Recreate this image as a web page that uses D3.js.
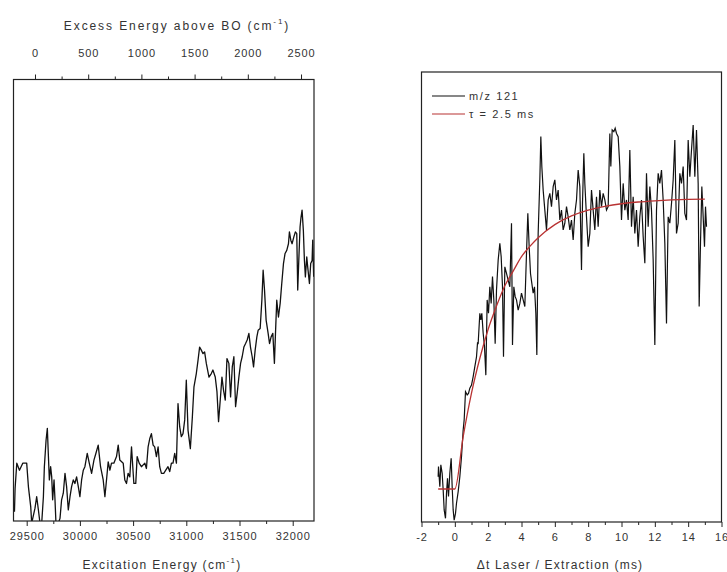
<!DOCTYPE html>
<html>
<head>
<meta charset="utf-8">
<script src="https://cdn.jsdelivr.net/npm/d3@7"></script>
<style>
    body { margin: 0; background: #fff; }
    text { font-family: Arial, "Liberation Sans", sans-serif; fill: #333; }
</style>
</head>
<body>
<script>
// ---- left panel: excitation spectrum (arb. units) ----
var leftEnergy = [29385,29391,29407,29432,29463,29500,29516,29538,29547,29578,29594,29610,29625,29641,29657,29666,29682,29694,29703,29713,
    29725,29735,29744,29757,29766,29775,29797,29813,29828,29844,29860,29875,29891,29907,29922,29938,29953,29969,29985,30000,
    30016,30032,30047,30069,30088,30110,30132,30150,30172,30194,30219,30235,30250,30266,30282,30297,30319,30344,30360,30375,
    30407,30422,30438,30453,30469,30485,30507,30525,30538,30557,30578,30610,30625,30641,30657,30672,30688,30703,30719,30735,
    30750,30766,30788,30807,30828,30844,30860,30875,30891,30907,30922,30938,30953,30969,30985,31000,31016,31038,31057,31072,
    31094,31110,31125,31141,31157,31172,31188,31213,31235,31250,31272,31288,31303,31319,31335,31350,31366,31382,31400,31416,
    31432,31447,31463,31478,31494,31510,31525,31541,31557,31572,31588,31603,31619,31632,31647,31663,31675,31694,31710,31722,
    31735,31750,31769,31782,31797,31813,31828,31838,31850,31866,31882,31897,31913,31928,31944,31960,31969,31982,31994,32010,
    32025,32038,32047,32057,32069,32078,32088,32100,32110,32119,32132,32141,32157,32169,32182,32188,32197];
var leftSignal = [0.021,0.074,0.131,0.115,0.131,0.131,0.078,0.032,-0.005,0.029,0.055,0.025,-0.005,-0.005,0.055,0.123,0.183,0.210,0.153,0.093,
    0.123,0.100,0.048,0.093,0.048,-0.005,-0.005,0.006,0.048,0.063,0.108,0.078,0.025,0.055,0.078,0.093,0.085,0.100,0.078,0.055,
    0.093,0.115,0.123,0.153,0.131,0.108,0.138,0.153,0.172,0.123,0.093,0.055,0.093,0.134,0.115,0.131,0.131,0.146,0.172,0.138,
    0.131,0.093,0.085,0.108,0.100,0.168,0.085,0.085,0.146,0.131,0.123,0.131,0.119,0.168,0.187,0.198,0.172,0.168,0.146,0.168,
    0.123,0.108,0.108,0.115,0.123,0.112,0.131,0.131,0.153,0.131,0.266,0.213,0.191,0.198,0.229,0.319,0.206,0.164,0.236,0.304,
    0.334,0.364,0.394,0.387,0.379,0.383,0.357,0.326,0.334,0.342,0.326,0.293,0.225,0.274,0.326,0.296,0.274,0.368,0.357,0.281,
    0.349,0.372,0.259,0.289,0.326,0.357,0.372,0.394,0.402,0.410,0.425,0.394,0.372,0.349,0.387,0.417,0.432,0.436,0.500,0.568,
    0.523,0.455,0.425,0.402,0.417,0.425,0.357,0.425,0.500,0.462,0.493,0.538,0.583,0.606,0.613,0.628,0.655,0.636,0.628,0.643,
    0.655,0.651,0.523,0.590,0.666,0.688,0.704,0.658,0.590,0.553,0.598,0.575,0.538,0.583,0.590,0.636,0.553];

var energyTicks = [29500, 30000, 30500, 31000, 31500, 32000];
var energyMinor = [29750, 30250, 30750, 31250, 31750];
var excessTicks = [0, 500, 1000, 1500, 2000, 2500];
var excessMinor = [250, 750, 1250, 1750, 2250];
var boOrigin = 29578;                                   // band origin used for the top axis

// ---- right panel: delay scan ----
var delayMs = [-1.00,-0.98,-0.90,-0.84,-0.76,-0.70,-0.64,-0.56,-0.50,-0.44,-0.38,-0.30,-0.22,-0.16,-0.10,-0.04,0.04,0.10,0.20,0.30,
    0.40,0.50,0.56,0.64,0.74,0.82,0.90,1.00,1.10,1.20,1.30,1.36,1.40,1.50,1.56,1.62,1.70,1.78,1.86,1.94,
    2.02,2.10,2.18,2.26,2.34,2.42,2.50,2.60,2.70,2.78,2.86,2.92,3.00,3.10,3.20,3.30,3.40,3.46,3.54,3.62,
    3.70,3.80,3.90,4.00,4.10,4.20,4.30,4.38,4.46,4.54,4.62,4.70,4.78,4.86,4.92,5.00,5.10,5.16,5.22,5.30,
    5.40,5.50,5.60,5.70,5.80,5.90,6.00,6.10,6.20,6.30,6.40,6.50,6.60,6.70,6.80,6.90,7.00,7.10,7.20,7.30,
    7.40,7.50,7.60,7.66,7.74,7.80,7.90,8.00,8.10,8.20,8.30,8.40,8.50,8.60,8.70,8.80,8.90,9.00,9.10,9.20,
    9.30,9.36,9.44,9.54,9.62,9.70,9.80,9.90,10.00,10.10,10.20,10.30,10.40,10.50,10.60,10.70,10.80,10.90,11.00,11.10,
    11.20,11.30,11.40,11.50,11.60,11.70,11.80,11.90,12.00,12.10,12.20,12.30,12.40,12.50,12.60,12.70,12.80,12.90,13.00,13.10,
    13.20,13.30,13.40,13.50,13.60,13.70,13.80,13.90,14.00,14.10,14.20,14.30,14.40,14.50,14.60,14.66,14.74,14.82,14.90,14.98,
    15.04,15.10];
var ionSignal = [0.042,0.077,0.008,0.083,0.054,-0.003,-0.072,-0.101,-0.015,0.037,-0.026,0.054,0.106,0.008,-0.072,-0.107,-0.084,-0.049,-0.009,0.042,
    0.111,0.203,0.238,0.335,0.324,0.329,0.347,0.358,0.387,0.421,0.455,0.502,0.501,0.605,0.582,0.605,0.536,0.490,0.392,0.651,
    0.605,0.696,0.639,0.731,0.651,0.500,0.685,0.788,0.846,0.800,0.696,0.455,0.765,0.742,0.719,0.696,0.915,0.496,0.696,0.662,
    0.651,0.616,0.639,0.674,0.651,0.628,0.811,0.949,0.834,0.742,0.708,0.674,0.696,0.605,0.461,0.880,1.064,1.213,1.110,1.029,
    0.960,0.892,0.995,1.018,0.972,1.041,1.064,0.995,1.029,0.926,0.960,0.892,0.915,0.972,0.937,0.892,0.926,0.857,0.949,0.995,
    1.098,1.041,0.754,0.983,1.156,1.052,0.937,0.834,0.880,1.029,0.960,0.892,1.006,0.903,1.029,0.972,1.018,0.995,0.960,0.972,
    1.224,1.110,1.236,1.230,1.242,1.224,1.213,1.110,0.926,1.052,0.960,0.995,0.926,1.167,0.903,1.006,0.880,0.960,0.834,0.937,
    0.995,0.869,0.777,1.087,0.903,1.041,0.960,0.788,0.496,0.960,1.087,1.052,1.098,0.995,0.846,0.570,0.937,0.915,0.983,1.064,
    1.201,0.880,0.915,1.087,1.052,1.110,0.949,0.926,1.201,1.075,1.167,1.253,1.075,1.236,1.052,0.628,0.846,1.041,0.937,0.834,
    0.972,0.903];

var fitMs = [-1, -0.5, 0, 0.5, 1, 1.5, 2, 2.5, 3, 3.5, 4, 4.5, 5, 6, 7, 8, 9, 10, 11, 12, 13, 14, 15];
var fitSignal = [0, 0, 0, 0.18, 0.33, 0.45, 0.55, 0.63, 0.70, 0.75, 0.80, 0.835, 0.865, 0.91, 0.94, 0.96, 0.973, 0.982, 0.988, 0.992, 0.995, 0.997, 0.998];

var delayTicks = [-2, 0, 2, 4, 6, 8, 10, 12, 14, 16];
var delayMinor = [-1, 1, 3, 5, 7, 9, 11, 13, 15];
var legendLabels = ["m/z 121", "\u03c4 = 2.5 ms"];
var legendColors = ["#111", "#b83232"];

window.onload = function(){

    var w = 727, h = 572;

    var svg = d3.select("body")
        .append("svg")
        .attr("width", w)
        .attr("height", h);

    // panel boxes
    var L = {x0: 13.5, x1: 314, y0: 79.5, y1: 521};
    var R = {x0: 421.5, x1: 721.5, y0: 72, y1: 522};

    var defs = svg.append("defs");
    defs.append("clipPath").attr("id", "clipL").append("rect")
        .attr("x", L.x0).attr("y", L.y0).attr("width", L.x1 - L.x0).attr("height", L.y1 - L.y0);
    defs.append("clipPath").attr("id", "clipR").append("rect")
        .attr("x", R.x0).attr("y", R.y0).attr("width", R.x1 - R.x0).attr("height", R.y1 - R.y0);

    // ---------- left panel ----------
    var xL = d3.scaleLinear().domain([29376, 32200]).range([L.x0, L.x1]);
    var xTop = d3.scaleLinear().domain([29376 - boOrigin, 32200 - boOrigin]).range([L.x0, L.x1]);
    var yL = d3.scaleLinear().domain([0, 1]).range([L.y1, L.y0]);

    var leftLine = d3.line()
        .x(function(d, i){ return xL(leftEnergy[i]); })
        .y(function(d){ return yL(d); });

    svg.append("path")
        .datum(leftSignal)
        .attr("clip-path", "url(#clipL)")
        .attr("d", leftLine)
        .style("fill", "none")
        .style("stroke", "#111")
        .style("stroke-width", 1.3)
        .style("stroke-linejoin", "round");

    drawAxis(d3.axisBottom(xL), energyTicks, energyMinor, "translate(0," + L.y1 + ")", 6);
    drawAxis(d3.axisTop(xTop), excessTicks, excessMinor, "translate(0," + L.y0 + ")", 18);

    svg.append("rect")
        .attr("x", L.x0).attr("y", L.y0)
        .attr("width", L.x1 - L.x0).attr("height", L.y1 - L.y0)
        .style("fill", "none").style("stroke", "#222").style("stroke-width", 1.2);

    axisTitle(162, 569, "Excitation Energy (cm", 1.3);
    axisTitle(177, 30, "Excess  Energy  above  BO  (cm", 1.9);

    // ---------- right panel ----------
    var xR = d3.scaleLinear().domain([-2, 16]).range([R.x0, R.x1]);
    var yR = d3.scaleLinear().domain([-0.1136, 1.4355]).range([R.y1, R.y0]);

    var sigLine = d3.line()
        .x(function(d, i){ return xR(delayMs[i]); })
        .y(function(d){ return yR(d); });

    svg.append("path")
        .datum(ionSignal)
        .attr("clip-path", "url(#clipR)")
        .attr("d", sigLine)
        .style("fill", "none")
        .style("stroke", legendColors[0])
        .style("stroke-width", 1.2);

    var fitLine = d3.line()
        .x(function(d, i){ return xR(fitMs[i]); })
        .y(function(d){ return yR(d); })
        .curve(d3.curveMonotoneX);

    svg.append("path")
        .datum(fitSignal)
        .attr("clip-path", "url(#clipR)")
        .attr("d", fitLine)
        .style("fill", "none")
        .style("stroke", legendColors[1])
        .style("stroke-width", 1.3);

    drawAxis(d3.axisBottom(xR), delayTicks, delayMinor, "translate(0," + R.y1 + ")", 6);

    svg.append("rect")
        .attr("x", R.x0).attr("y", R.y0)
        .attr("width", R.x1 - R.x0).attr("height", R.y1 - R.y0)
        .style("fill", "none").style("stroke", "#222").style("stroke-width", 1.2);

    svg.append("text")
        .attr("x", 560).attr("y", 569)
        .attr("text-anchor", "middle")
        .style("font-size", "12px")
        .style("letter-spacing", "1.2px")
        .text("\u0394t Laser / Extraction (ms)");

    // legend
    var legend = svg.selectAll(".legend")
        .data(legendLabels)
        .enter()
        .append("g")
        .attr("class", "legend")
        .attr("transform", function(d, i){ return "translate(0," + (96 + i * 18) + ")"; });

    legend.append("line")
        .attr("x1", 432).attr("x2", 465)
        .style("stroke", function(d, i){ return legendColors[i]; })
        .style("stroke-width", 1.2);

    legend.append("text")
        .attr("x", 469).attr("y", 4)
        .style("font-size", "11px")
        .style("letter-spacing", "1.6px")
        .text(function(d){ return d; });

    // ---------- helpers ----------
    function drawAxis(axis, major, minor, tr, pad){
        var g = svg.append("g")
            .attr("transform", tr)
            .call(axis.tickValues(major).tickSize(5).tickPadding(pad)
                .tickFormat(function(d){ return String(d); }));      // plain hyphen, no thousands comma
        g.select(".domain").remove();
        g.selectAll("line").style("stroke", "#222");
        g.selectAll("text")
            .style("font-size", "11px")
            .style("letter-spacing", "0.9px")
            .style("font-family", "Arial, 'Liberation Sans', sans-serif")
            .style("fill", "#333");

        var m = svg.append("g")
            .attr("transform", tr)
            .call(axis.tickValues(minor).tickSize(3).tickFormat(""));
        m.select(".domain").remove();
        m.selectAll("line").style("stroke", "#222");
    }

    function axisTitle(x, y, label, spacing){
        var t = svg.append("text")
            .attr("x", x).attr("y", y)
            .attr("text-anchor", "middle")
            .style("font-size", "12px")
            .style("letter-spacing", spacing + "px");
        t.append("tspan").text(label);
        t.append("tspan").attr("dy", -6).style("font-size", "8px").text("-1");
        t.append("tspan").attr("dy", 6).text(")");
    }
};
</script>
</body>
</html>
